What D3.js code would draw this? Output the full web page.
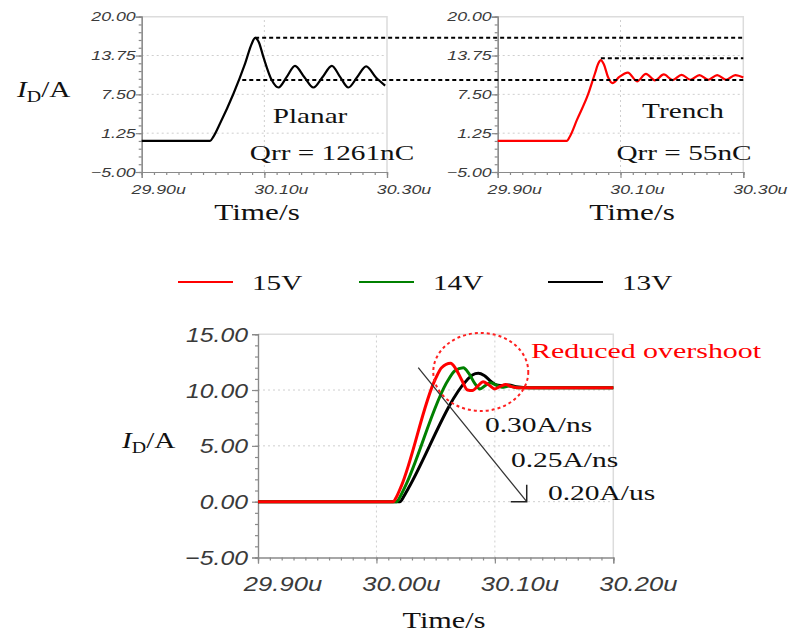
<!DOCTYPE html>
<html><head><meta charset="utf-8">
<script src="https://cdn.jsdelivr.net/npm/d3@7"></script>
<style>body{margin:0;background:#fff}svg{display:block}</style>
</head><body>
<svg id="c" width="790" height="635"></svg>
<script>
// ---------------- data ----------------
const topYTicks = [-5.00, 1.25, 7.50, 13.75, 20.00];
const topXTicks = [29.90, 30.10, 30.30];
const botYTicks = [-5, 0, 5, 10, 15];
const botXTicks = [29.90, 30.00, 30.10, 30.20];

const planarTime = [29.90, 30.0115, 30.017, 30.0277, 30.0496, 30.0687, 30.0796, 30.085, 30.091, 30.0985, 30.112, 30.123, 30.1365, 30.150, 30.165, 30.180, 30.195, 30.210, 30.2235, 30.237, 30.2515, 30.266, 30.282, 30.297];
const planarCurrent = [0, 0, 0.7, 2.8, 7.6, 12.5, 15.7, 16.6, 15.9, 13.5, 9.8, 8.6, 10.3, 12.1, 10.3, 8.6, 10.3, 12.1, 10.3, 8.6, 10.3, 12.0, 10.2, 8.9];

const trenchTime = [29.90, 30.0124, 30.018, 30.0287, 30.0476, 30.0585, 30.064, 30.068, 30.073, 30.080, 30.087, 30.098, 30.112, 30.127, 30.1415, 30.156, 30.1705, 30.185, 30.1995, 30.214, 30.2285, 30.243, 30.2575, 30.272, 30.287, 30.300];
const trenchCurrent = [0, 0, 0.8, 3.3, 7.6, 10.9, 12.5, 13.0, 12.3, 10.2, 9.3, 10.3, 11.0, 9.6, 10.8, 9.75, 10.7, 9.8, 10.65, 9.85, 10.6, 9.85, 10.6, 9.85, 10.6, 10.2];

const planarPeak = 16.6, trenchPeak = 13.3, steadyLevel = 9.8;

const legendNames = ["15V", "14V", "13V"];
const legendColors = ["#ff0000", "#008000", "#000000"];

const v15Time = [29.90, 30.0141, 30.017, 30.021, 30.0494, 30.055, 30.0626, 30.067, 30.072, 30.077, 30.081, 30.086, 30.090, 30.095, 30.100, 30.105, 30.109, 30.114, 30.120, 30.200];
const v15Current = [0, 0, 0.45, 1.4, 10.9, 12.0, 12.4, 11.9, 10.9, 10.0, 9.95, 10.4, 10.75, 10.45, 10.1, 10.35, 10.5, 10.3, 10.2, 10.2];
const v14Time = [29.90, 30.017, 30.020, 30.024, 30.0606, 30.066, 30.0733, 30.078, 30.083, 30.0874, 30.092, 30.096, 30.101, 30.106, 30.112, 30.120, 30.200];
const v14Current = [0, 0, 0.45, 1.3, 10.9, 11.7, 12.0, 11.5, 10.6, 10.1, 10.4, 10.65, 10.45, 10.25, 10.35, 10.2, 10.2];
const v13Time = [29.90, 30.0198, 30.023, 30.027, 30.0765, 30.081, 30.086, 30.091, 30.097, 30.1015, 30.107, 30.112, 30.118, 30.130, 30.200];
const v13Current = [0, 0, 0.45, 1.2, 10.9, 11.35, 11.5, 11.3, 10.75, 10.45, 10.4, 10.45, 10.3, 10.2, 10.2];

const slopeLabels = ["0.30A/ns", "0.25A/ns", "0.20A/us"];

// ---------------- helpers ----------------
const svg = d3.select("#c");
const SERIF = "'Liberation Serif','Times New Roman',serif";
const SANS = "'Liberation Sans',Arial,sans-serif";
const SX = 1.33;

function txt(g, x, y, s, o) {
  o = o || {};
  return g.append("text")
    .attr("transform", `translate(${x},${y}) scale(${o.sx || 1},1)`)
    .attr("text-anchor", o.anchor || "start")
    .attr("font-family", o.family || SERIF)
    .attr("font-size", o.size || 22)
    .attr("font-style", o.style || "normal")
    .attr("fill", o.fill || "#111")
    .text(s);
}
function ylabel(g, x, y, size, sx) {
  const t = g.append("text")
    .attr("transform", `translate(${x},${y}) scale(${sx},1)`)
    .attr("font-family", SERIF).attr("font-size", size).attr("fill", "#111");
  t.append("tspan").attr("font-style", "italic").text("I");
  t.append("tspan").attr("font-size", size * 0.68).attr("dy", size * 0.2).text("D");
  t.append("tspan").attr("dy", -size * 0.2).text("/A");
}
const pts = (ts, vs) => ts.map((t, i) => [t, vs[i]]);

function frame(g, x, y, o) {
  const [x0, x1] = x.range(), [y0, y1] = y.range();
  o.yGrid.forEach(v => g.append("line").attr("x1", x0).attr("x2", x1).attr("y1", y(v)).attr("y2", y(v))
    .attr("stroke", "#cfcfcf").attr("stroke-width", 1).attr("stroke-dasharray", "2,3"));
  o.xGrid.forEach(v => g.append("line").attr("x1", x(v)).attr("x2", x(v)).attr("y1", y0).attr("y2", y1)
    .attr("stroke", "#cfcfcf").attr("stroke-width", 1).attr("stroke-dasharray", "2,3"));
  g.append("path").attr("d", `M${x0},${y1}H${x1}V${y0}`).attr("fill", "none").attr("stroke", "#dcdcdc").attr("stroke-width", 1.5);
  const yAxisMinor = d3.axisLeft(y).tickValues(o.yMinor).tickSize(3).tickFormat("");
  const xAxisMinor = d3.axisBottom(x).tickValues(o.xMinor).tickSize(3).tickFormat("");
  const yAxis = d3.axisLeft(y).tickValues(o.yTicks).tickSize(6).tickFormat("");
  const xAxis = d3.axisBottom(x).tickValues(o.xTicks).tickSize(6).tickFormat("");
  [[yAxisMinor, `translate(${x0},0)`], [yAxis, `translate(${x0},0)`],
   [xAxisMinor, `translate(0,${y0})`], [xAxis, `translate(0,${y0})`]].forEach(([ax, tr]) => {
    const a = g.append("g").attr("transform", tr).call(ax);
    a.selectAll("path,line").attr("stroke", "#8a8a8a").attr("stroke-width", 1.2);
  });
  o.yTicks.forEach(v => txt(g, x0 - o.yLabDx, y(v) + o.yLabDy, o.yFmt(v),
    { anchor: "end", family: SANS, style: "italic", size: o.labSize, sx: o.yLabSx, fill: "#3a3a3a" }));
  o.xTicks.forEach(v => txt(g, x(v) + o.xLabDx, o.xLabY, o.xFmt(v),
    { anchor: "middle", family: SANS, style: "italic", size: o.xLabSize, sx: o.xLabSx, fill: "#3a3a3a" }));
}

function range(a, b, s) { const r = []; for (let v = a; v <= b + 1e-9; v += s) r.push(+v.toFixed(4)); return r; }

// ---------------- top charts ----------------
const yTop = d3.scaleLinear().domain([-5, 20]).range([172, 16.7]);
const xL = d3.scaleLinear().domain([29.90, 30.30]).range([141.7, 387]);
const xR = d3.scaleLinear().domain([29.90, 30.30]).range([497.7, 743.3]);
const topOpts = {
  yGrid: [1.25, 7.5, 13.75], xGrid: [30.10], yTicks: topYTicks, xTicks: topXTicks,
  yMinor: range(-5, 20, 1.25), xMinor: range(29.90, 30.30, 0.02),
  yFmt: d3.format(".2f"), xFmt: v => d3.format(".2f")(v) + "u",
  labSize: 12.5, xLabSize: 12.5, yLabSx: 1.42, xLabSx: 1.42, yLabDx: 6, yLabDy: 4.5, xLabDx: 17, xLabY: 194
};
const gL = svg.append("g"), gR = svg.append("g");
frame(gL, xL, yTop, topOpts);
frame(gR, xR, yTop, topOpts);

const lineTop = x => d3.line().x(d => x(d[0])).y(d => yTop(d[1])).curve(d3.curveMonotoneX);
gL.append("path").datum(pts(planarTime, planarCurrent)).attr("d", lineTop(xL))
  .attr("fill", "none").attr("stroke", "#000").attr("stroke-width", 2.2);
gR.append("path").datum(pts(trenchTime, trenchCurrent)).attr("d", lineTop(xR))
  .attr("fill", "none").attr("stroke", "#ff0000").attr("stroke-width", 2.2);

const dash = (xa, xb, v) => svg.append("line").attr("x1", xa).attr("x2", xb).attr("y1", yTop(v)).attr("y2", yTop(v))
  .attr("stroke", "#000").attr("stroke-width", 2).attr("stroke-dasharray", "4,3");
dash(xL(30.085), xR(30.30), planarPeak);
dash(xL(30.064), xR(30.30), steadyLevel);
dash(xR(30.068), xR(30.30), trenchPeak);

ylabel(svg, 17, 97, 24, 1.22);
txt(svg, 310, 123, "Planar", { anchor: "middle", sx: SX });
txt(svg, 332, 160, "Qrr = 1261nC", { anchor: "middle", sx: SX });
txt(svg, 683, 118, "Trench", { anchor: "middle", sx: SX });
txt(svg, 684, 160, "Qrr = 55nC", { anchor: "middle", sx: SX });
txt(svg, 257, 220, "Time/s", { anchor: "middle", size: 24, sx: 1.3 });
txt(svg, 632, 220, "Time/s", { anchor: "middle", size: 24, sx: 1.3 });

// ---------------- legend ----------------
const legX = [178, 359, 548];
legendNames.forEach((n, i) => {
  svg.append("line").attr("x1", legX[i]).attr("x2", legX[i] + 55).attr("y1", 282).attr("y2", 282)
    .attr("stroke", legendColors[i]).attr("stroke-width", 2.2);
  txt(svg, legX[i] + 74, 290, n, { sx: SX });
});

// ---------------- bottom chart ----------------
const yB = d3.scaleLinear().domain([-5, 15]).range([557.5, 334.2]);
const xB = d3.scaleLinear().domain([29.90, 30.20]).range([258, 613.3]);
const gB = svg.append("g");
frame(gB, xB, yB, {
  yGrid: [0, 5, 10], xGrid: [30.00, 30.10], yTicks: botYTicks, xTicks: botXTicks,
  yMinor: range(-5, 15, 1), xMinor: range(29.90, 30.20, 0.01),
  yFmt: d3.format(".2f"), xFmt: v => d3.format(".2f")(v) + "u",
  labSize: 21, xLabSize: 21, yLabSx: 1.18, xLabSx: 1.22, yLabDx: 10, yLabDy: 7.5, xLabDx: 25, xLabY: 591
});
const lineB = d3.line().x(d => xB(d[0])).y(d => yB(d[1])).curve(d3.curveMonotoneX);
const botSeries = [pts(v15Time, v15Current), pts(v14Time, v14Current), pts(v13Time, v13Current)];
[2, 1, 0].forEach(i => gB.append("path").datum(botSeries[i]).attr("d", lineB)
  .attr("fill", "none").attr("stroke", legendColors[i]).attr("stroke-width", 3).attr("stroke-linejoin", "round"));

gB.append("ellipse").attr("cx", xB(30.0881)).attr("cy", yB(11.62)).attr("rx", 47.5).attr("ry", 39)
  .attr("fill", "none").attr("stroke", "#ff2020").attr("stroke-width", 2).attr("stroke-dasharray", "3,3");
txt(svg, 531, 358, "Reduced overshoot", { fill: "#ff0000", sx: 1.36 });

const ax0 = xB(30.0353), ay0 = yB(12.0), ax1 = xB(30.1269), ay1 = yB(0);
gB.append("line").attr("x1", ax0).attr("y1", ay0).attr("x2", ax1).attr("y2", ay1).attr("stroke", "#333").attr("stroke-width", 1.3);
gB.append("path").attr("d", `M${ax1},${ay1 - 17}V${ay1}H${ax1 - 16}`).attr("fill", "none").attr("stroke", "#222").attr("stroke-width", 1.5);
txt(svg, 485, 432, slopeLabels[0], { sx: 1.34 });
txt(svg, 511, 467, slopeLabels[1], { sx: 1.34 });
txt(svg, 548, 500, slopeLabels[2], { sx: 1.34 });

ylabel(svg, 122, 448, 24, 1.22);
txt(svg, 444, 628, "Time/s", { anchor: "middle", size: 24, sx: 1.26 });
</script>
</body></html>
